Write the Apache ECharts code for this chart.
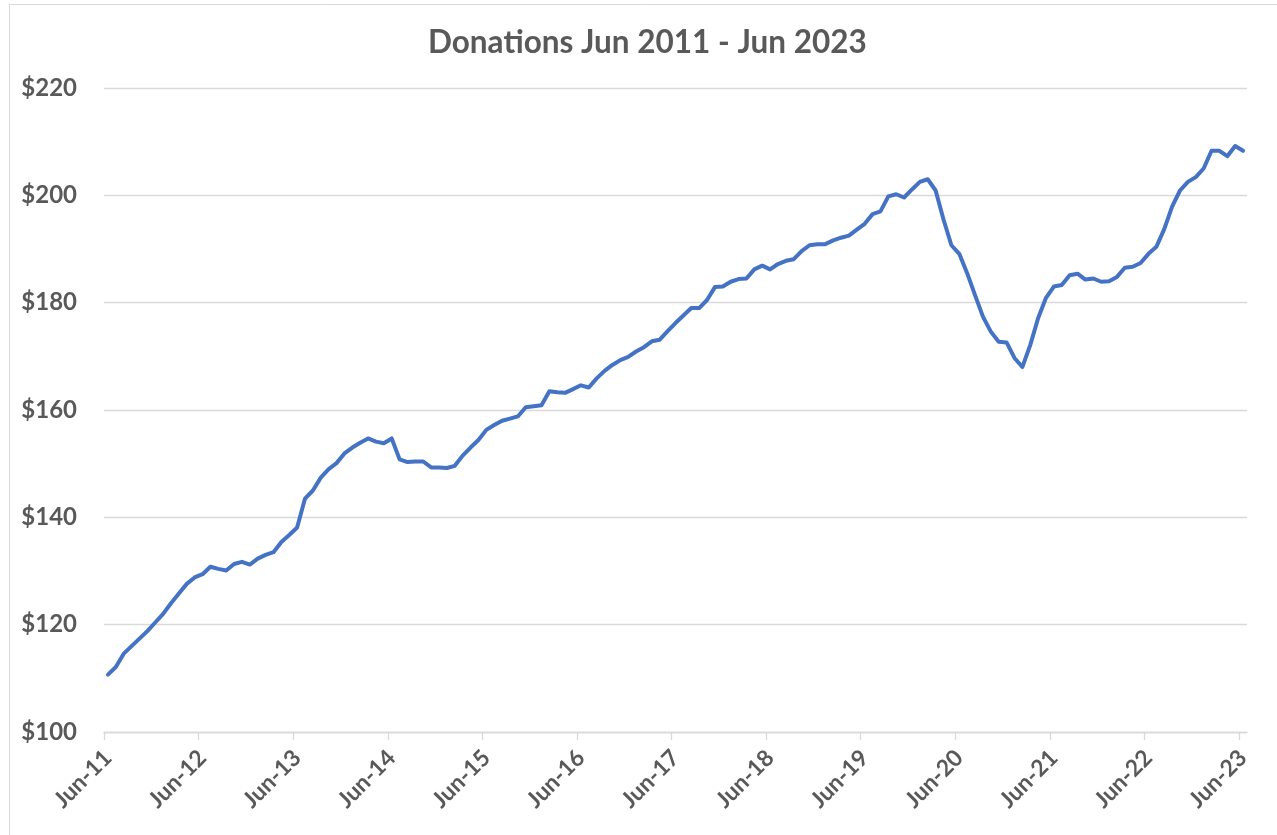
<!DOCTYPE html>
<html>
<head>
<meta charset="utf-8">
<title>Donations Jun 2011 - Jun 2023</title>
<script src="https://cdn.jsdelivr.net/npm/echarts@6/dist/echarts.min.js"></script>
<style>
  html, body { margin: 0; padding: 0; background: #ffffff; }
  #chart { width: 1277px; height: 835px; }
</style>
</head>
<body>
<div id="chart"></div>
<script>
// Monthly donations, June 2011 through June 2023 (145 months, dollars)
const donations = [
  110.7, 112.1, 114.6, 116.0, 117.4, 118.8, 120.4, 122.0, 124.0, 125.8, 127.6, 128.8,
  129.4, 130.8, 130.4, 130.1, 131.3, 131.7, 131.2, 132.3, 133.0, 133.5, 135.4, 136.7,
  138.1, 143.5, 145.0, 147.4, 149.0, 150.1, 151.9, 153.0, 153.9, 154.7, 154.1, 153.8,
  154.7, 150.8, 150.3, 150.4, 150.4, 149.3, 149.3, 149.2, 149.6, 151.5, 153.0, 154.4,
  156.3, 157.2, 158.0, 158.4, 158.8, 160.5, 160.7, 160.9, 163.5, 163.3, 163.2, 163.9,
  164.6, 164.2, 165.9, 167.3, 168.4, 169.3, 169.9, 170.9, 171.7, 172.8, 173.1, 174.7,
  176.2, 177.6, 179.0, 179.0, 180.5, 182.9, 183.0, 183.9, 184.4, 184.5, 186.2, 186.9,
  186.2, 187.2, 187.8, 188.1, 189.6, 190.7, 190.9, 190.9, 191.6, 192.1, 192.5, 193.6,
  194.7, 196.5, 197.0, 199.8, 200.2, 199.6, 201.1, 202.5, 203.0, 200.9, 195.5, 190.7,
  189.1, 185.5, 181.4, 177.4, 174.6, 172.7, 172.6, 169.7, 168.0, 172.1, 177.1, 180.9,
  183.0, 183.3, 185.1, 185.4, 184.3, 184.5, 183.9, 184.0, 184.8, 186.5, 186.7, 187.4,
  189.1, 190.4, 193.7, 197.9, 200.9, 202.5, 203.4, 205.0, 208.3, 208.3, 207.3, 209.2,
  208.3
];

// One label per June
const yearLabels = [
  'Jun-11', 'Jun-12', 'Jun-13', 'Jun-14', 'Jun-15', 'Jun-16', 'Jun-17',
  'Jun-18', 'Jun-19', 'Jun-20', 'Jun-21', 'Jun-22', 'Jun-23'
];
const monthsPerLabel = 12;

// Dollar axis
const yMin = 100;
const yMax = 220;
const yStep = 20;

const chartTitle = 'Donations Jun 2011 - Jun 2023';

const textColor = '#595959';
const gridColor = '#d9d9d9';
const lineColor = '#4472C4';
const fontFamily = 'Lato, "Open Sans", "Noto Sans", sans-serif';

// Month index on x; labels sit on each June, ticks on the month boundaries
const seriesData = donations.map((v, i) => [i, v]);
const labelValues = yearLabels.map((_, k) => k * monthsPerLabel);
const tickValues = yearLabels.map((_, k) => k * monthsPerLabel - 0.5);

const chart = echarts.init(document.getElementById('chart'), null, { renderer: 'canvas' });

chart.setOption({
  animation: false,
  backgroundColor: '#ffffff',
  graphic: [{
    type: 'rect',
    silent: true,
    shape: { x: 9.5, y: 4.5, width: 1400, height: 1000 },
    style: { fill: 'none', stroke: gridColor, lineWidth: 1 }
  }],
  title: {
    text: chartTitle,
    left: 428,
    top: 27,
    padding: 0,
    textStyle: {
      fontFamily: fontFamily,
      fontWeight: 'bold',
      fontSize: 31.5,
      color: textColor
    }
  },
  grid: {
    left: 104,
    right: 30,
    top: 88,
    bottom: 103,
    outerBoundsMode: 'none'
  },
  xAxis: {
    type: 'value',
    min: -0.5,
    max: donations.length - 0.5,
    axisLine: { show: true, onZero: false, lineStyle: { color: gridColor, width: 1.3 } },
    axisTick: {
      show: true,
      customValues: tickValues,
      length: 8,
      lineStyle: { color: gridColor, width: 1.3 }
    },
    axisLabel: {
      customValues: labelValues,
      formatter: (v) => yearLabels[Math.round(v / monthsPerLabel)],
      rotate: 45,
      margin: 22,
      fontFamily: fontFamily,
      fontWeight: 'bold',
      fontSize: 23,
      color: textColor
    },
    splitLine: { show: false }
  },
  yAxis: {
    type: 'value',
    min: yMin,
    max: yMax,
    interval: yStep,
    axisLine: { show: false, onZero: false },
    axisTick: { show: false },
    axisLabel: {
      formatter: (v) => '$' + v,
      margin: 27,
      fontFamily: fontFamily,
      fontWeight: 'bold',
      fontSize: 24,
      color: textColor
    },
    splitLine: { show: true, lineStyle: { color: gridColor, width: 1.3 } }
  },
  series: [{
    type: 'line',
    name: 'Donations',
    data: seriesData,
    showSymbol: false,
    smooth: false,
    lineStyle: { color: lineColor, width: 4, cap: 'round', join: 'round' }
  }]
});
</script>
</body>
</html>
